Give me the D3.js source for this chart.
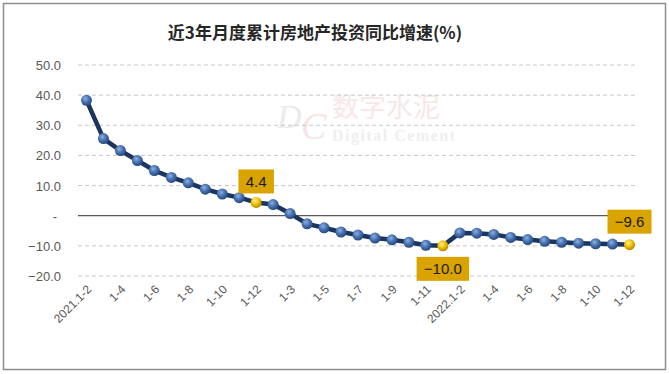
<!DOCTYPE html>
<html><head><meta charset="utf-8">
<script src="https://cdn.jsdelivr.net/npm/d3@7"></script>
<style>body{margin:0;background:#fff}svg{display:block}</style>
</head><body>
<svg id="c" width="669" height="374"></svg>
<script>
const categories = ["2021.1-2","1-3","1-4","1-5","1-6","1-7","1-8","1-9","1-10","1-11","1-12",
  "2022.1-2","1-3","1-4","1-5","1-6","1-7","1-8","1-9","1-10","1-11","1-12",
  "2022.1-2","1-3","1-4","1-5","1-6","1-7","1-8","1-9","1-10","1-11","1-12"];
const values = [38.3,25.6,21.6,18.3,15.0,12.7,10.9,8.8,7.2,6.0,4.4,
  3.7,0.7,-2.7,-4.0,-5.4,-6.4,-7.4,-8.0,-8.8,-9.8,-10.0,
  -5.7,-5.8,-6.2,-7.2,-7.9,-8.5,-8.8,-9.1,-9.3,-9.4,-9.6];
const yTicks = [-20,-10,0,10,20,30,40,50];
const highlighted = [10,21,32];
const labelOffsets = {10:-21, 21:23, 32:-23};
const title = "近3年月度累计房地产投资同比增速(%)";

const svg = d3.select("#c");
svg.append("rect").attr("x",3.5).attr("y",3.5).attr("width",662).attr("height",366)
  .attr("fill","#fff").attr("stroke","#8c8c8c").attr("stroke-width",1.5);

const x = d3.scaleBand().domain(d3.range(categories.length)).range([78,638]);
const cx = i => x(i) + x.bandwidth()/2;
const y = d3.scaleLinear().domain([-20,50]).range([276,65]);

// watermark
const wm = svg.append("g").attr("pointer-events","none");
wm.append("text").attr("x",277).attr("y",128).text("D")
  .attr("font-family","Liberation Serif").attr("font-style","italic").attr("font-size",34)
  .attr("fill","#dcdcdc").attr("opacity",0.55);
wm.append("text").attr("x",301).attr("y",139).text("C")
  .attr("font-family","Liberation Serif").attr("font-style","italic").attr("font-size",38)
  .attr("fill","#f0cccc").attr("opacity",0.5);
wm.append("text").attr("x",332).attr("y",117).text("数字水泥")
  .attr("font-family","Noto Sans CJK SC").attr("font-size",27)
  .attr("fill","#f3d0d0").attr("opacity",0.5);
wm.append("text").attr("x",332).attr("y",141).text("Digital Cement")
  .attr("font-family","Liberation Serif").attr("font-weight","bold").attr("font-size",16)
  .attr("letter-spacing",1.5).attr("fill","#e6e6e6").attr("opacity",0.6);

// gridlines
svg.append("g").selectAll("line").data(yTicks.filter(d=>d!==0)).join("line")
  .attr("x1",78).attr("x2",638).attr("y1",d=>y(d)).attr("y2",d=>y(d))
  .attr("stroke","#c8c8c8").attr("stroke-width",1).attr("stroke-dasharray","4,3");
svg.append("line").attr("x1",78).attr("x2",639).attr("y1",y(0)).attr("y2",y(0))
  .attr("stroke","#595959").attr("stroke-width",1.3);

// y axis labels
const yAxis = d3.axisLeft(y).tickValues(yTicks).tickSize(0).tickPadding(0)
  .tickFormat(d => d===0 ? "-" : d3.format(".1f")(d));
const ya = svg.append("g").attr("transform","translate(61,0)").call(yAxis);
ya.select(".domain").remove();
ya.selectAll("text").attr("font-family","Liberation Sans, Arial").attr("font-size",13)
  .attr("fill","#595959").attr("dy","0.35em");
ya.selectAll(".tick").filter(d=>d===0).select("text").attr("dx",-4);

// x axis labels
const xAxis = d3.axisBottom(x).tickSize(0).tickPadding(0)
  .tickValues(d3.range(0,categories.length,2)).tickFormat(i=>categories[i]);
const xa = svg.append("g").attr("transform","translate(0,290)").call(xAxis);
xa.select(".domain").remove();
xa.selectAll("text").attr("font-family","Liberation Sans, Arial").attr("font-size",12)
  .attr("fill","#595959").attr("text-anchor","end").attr("dy","0.35em").attr("y",0)
  .attr("transform","rotate(-45) translate(4,0)");

const defs = svg.append("defs");
const gb = defs.append("radialGradient").attr("id","gb").attr("cx","40%").attr("cy","35%").attr("r","65%");
gb.append("stop").attr("offset","0%").attr("stop-color","#8fb0e0");
gb.append("stop").attr("offset","50%").attr("stop-color","#4a74b4");
gb.append("stop").attr("offset","100%").attr("stop-color","#27487c");
const gy = defs.append("radialGradient").attr("id","gy").attr("cx","40%").attr("cy","35%").attr("r","65%");
gy.append("stop").attr("offset","0%").attr("stop-color","#fff2a0");
gy.append("stop").attr("offset","50%").attr("stop-color","#f2c200");
gy.append("stop").attr("offset","100%").attr("stop-color","#b88a00");

const line = d3.line().x((d,i)=>cx(i)).y(d=>y(d));
svg.append("path").datum(values).attr("d",line).attr("fill","none")
  .attr("stroke","#1c355e").attr("stroke-width",4.5).attr("stroke-linejoin","round");

svg.append("g").selectAll("circle").data(values).join("circle")
  .attr("cx",(d,i)=>cx(i)).attr("cy",d=>y(d)).attr("r",5.5)
  .attr("fill",(d,i)=>highlighted.includes(i)?"url(#gy)":"url(#gb)");

const lg = svg.append("g").selectAll("g").data(highlighted).join("g")
  .attr("transform",i=>`translate(${cx(i)},${y(values[i])+labelOffsets[i]})`);
lg.each(function(i){
  const g = d3.select(this);
  const t = d3.format(".1f")(values[i]);
  const w = t.length*8.5+10;
  g.append("rect").attr("x",-w/2).attr("y",-12).attr("width",w).attr("height",24).attr("fill","#d9a300");
  g.append("text").attr("text-anchor","middle").attr("dy","0.36em").text(t)
    .attr("font-family","Liberation Sans, Arial").attr("font-size",15).attr("fill","#1a1a1a");
});

svg.append("text").attr("x",315).attr("y",33).attr("text-anchor","middle").attr("dy","0.35em")
  .text(title).attr("font-family","Noto Sans CJK SC").attr("font-weight","bold")
  .attr("font-size",17).attr("fill","#262626");
</script>
</body></html>
